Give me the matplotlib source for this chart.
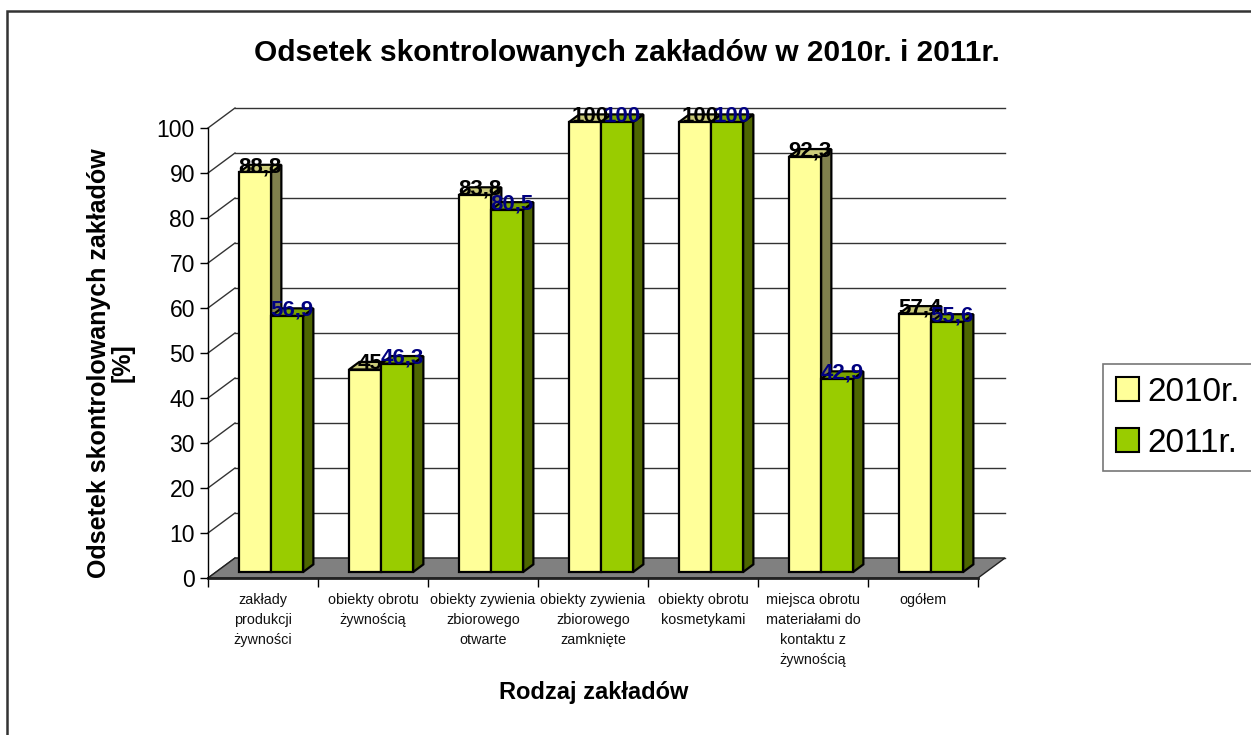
import matplotlib
matplotlib.use("Agg")
import matplotlib.pyplot as plt
from matplotlib.patches import Polygon, Rectangle, Patch

plt.rcParams['font.family'] = ['Liberation Sans', 'DejaVu Sans']

# dane
categories = ["zakłady\nprodukcji\nżywności",
              "obiekty obrotu\nżywnością",
              "obiekty zywienia\nzbiorowego\notwarte",
              "obiekty zywienia\nzbiorowego\nzamknięte",
              "obiekty obrotu\nkosmetykami",
              "miejsca obrotu\nmateriałami do\nkontaktu z\nżywnością",
              "ogółem"]
series_names = ["2010r.", "2011r."]
values_2010 = [88.8, 45, 83.8, 100, 100, 92.3, 57.4]
values_2011 = [56.9, 46.3, 80.5, 100, 100, 42.9, 55.6]
yticks = list(range(0, 101, 10))

# kolory: przód, góra, bok
colors = {
    "2010r.": ("#FFFF99", "#CCCC7A", "#80804D"),
    "2011r.": ("#99CC00", "#7AA300", "#4D6600"),
}
label_colors = {"2010r.": "black", "2011r.": "#000080"}

W, H = 1251, 735
fig = plt.figure(figsize=(W / 100, H / 100), dpi=100)

# obszar przedniej płaszczyzny wykresu (w pikselach)
x0_px, y0_px = 208, 578
cat_px, unit_px = 110, 4.5
n = len(categories)
ax = fig.add_axes([x0_px / W, (H - y0_px) / H, n * cat_px / W, 100 * unit_px / H])
ax.set_xlim(0, n)
ax.set_ylim(0, 100)
ax.patch.set_visible(False)

# wektor głębi (efekt 3D) w jednostkach danych
Dx, Dy = 27 / cat_px, 20 / unit_px
f0, f1 = 0.30, 0.68

# tylna ściana - siatka
for v in yticks:
    ax.plot([Dx, n + Dx], [v + Dy, v + Dy], color="#333333", lw=1.0, clip_on=False, zorder=1)
    ax.plot([0, Dx], [v, v + Dy], color="#333333", lw=1.0, clip_on=False, zorder=1)

# podłoga
floor = Polygon([(0, 0), (n, 0), (n + Dx, Dy), (Dx, Dy)], closed=True,
                facecolor="#808080", edgecolor="#222222", lw=1.0, clip_on=False, zorder=2)
ax.add_patch(floor)
ax.plot([0, n], [0, 0], color="#222222", lw=2.0, clip_on=False, zorder=2.1)


def draw_bar(xa, xb, v, name):
    front, top, side = colors[name]
    kw = dict(closed=True, edgecolor="black", lw=1.6, clip_on=False, zorder=3,
              joinstyle="miter")
    ax.add_patch(Polygon([(xb + f0 * Dx, f0 * Dy), (xb + f1 * Dx, f1 * Dy),
                          (xb + f1 * Dx, v + f1 * Dy), (xb + f0 * Dx, v + f0 * Dy)],
                         facecolor=side, **kw))
    ax.add_patch(Polygon([(xa + f0 * Dx, v + f0 * Dy), (xb + f0 * Dx, v + f0 * Dy),
                          (xb + f1 * Dx, v + f1 * Dy), (xa + f1 * Dx, v + f1 * Dy)],
                         facecolor=top, **kw))
    ax.add_patch(Polygon([(xa + f0 * Dx, f0 * Dy), (xb + f0 * Dx, f0 * Dy),
                          (xb + f0 * Dx, v + f0 * Dy), (xa + f0 * Dx, v + f0 * Dy)],
                         facecolor=front, **kw))


bar_w = 0.291
start = 0.209
for i in range(n):
    for j, (name, vals) in enumerate(zip(series_names, [values_2010, values_2011])):
        xa = i + start + j * bar_w
        draw_bar(xa, xa + bar_w, vals[i], name)
for i in range(n):
    for j, (name, vals) in enumerate(zip(series_names, [values_2010, values_2011])):
        xa = i + start + j * bar_w
        v = vals[i]
        cx = xa + bar_w / 2 + (f0 + f1) / 2 * Dx
        cy = v + (f0 + f1) / 2 * Dy + 0.4
        ax.text(cx, cy, f"{v:g}".replace(".", ","), ha="center", va="center",
                fontsize=16, fontweight="bold", color=label_colors[name], zorder=5)

# osie
for s in ["top", "right", "bottom"]:
    ax.spines[s].set_visible(False)
ax.spines["left"].set_color("black")
ax.spines["left"].set_linewidth(1.0)
ax.set_yticks(yticks)
ax.tick_params(axis="y", length=5.8, width=1.0, pad=3.6, labelsize=16.5)
ax.set_xticks(range(n + 1))
ax.set_xticklabels([])
ax.tick_params(axis="x", which="major", length=6.5, width=1.0)
ax.set_xticks([i + 0.5 for i in range(n)], minor=True)
ax.set_xticklabels(categories, minor=True)
ax.tick_params(axis="x", which="minor", length=0, pad=11, labelsize=10.4, labelcolor="#111111")
for lbl in ax.get_xticklabels(minor=True):
    lbl.set_linespacing(1.55)
    lbl.set_verticalalignment("top")

# tytuły
fig.text(627 / W, 1 - 53 / H, "Odsetek skontrolowanych zakładów w 2010r. i 2011r.",
         ha="center", va="center", fontsize=21.5, fontweight="bold")
fig.text(594 / W, 1 - 692 / H, "Rodzaj zakładów", ha="center", va="center",
         fontsize=17, fontweight="bold")
fig.text(111 / W, 1 - 363 / H, "Odsetek skontrolowanych zakładów\n[%]", rotation=90,
         ha="center", va="center", multialignment="center", fontsize=18,
         fontweight="bold", linespacing=0.95)

# legenda
handles = [Patch(facecolor=colors[nm][0], edgecolor="black", lw=1.5) for nm in series_names]
leg = fig.legend(handles, series_names, loc="upper left",
                 bbox_to_anchor=(1103 / W, 1 - 364 / H), borderaxespad=0,
                 fontsize=24, frameon=True, fancybox=False, handlelength=0.69,
                 handleheight=0.69, handletextpad=0.27, labelspacing=0.6, borderpad=0.38)
leg.get_frame().set_edgecolor("#555555")
leg.get_frame().set_linewidth(1.2)

# ramka wykresu
fig.patches.append(Rectangle((7 / W, -0.1), 1.1, 1.1 - 11 / H, transform=fig.transFigure,
                             fill=False, edgecolor="#333333", lw=1.8, zorder=0))

fig.savefig("out.png", dpi=100)
